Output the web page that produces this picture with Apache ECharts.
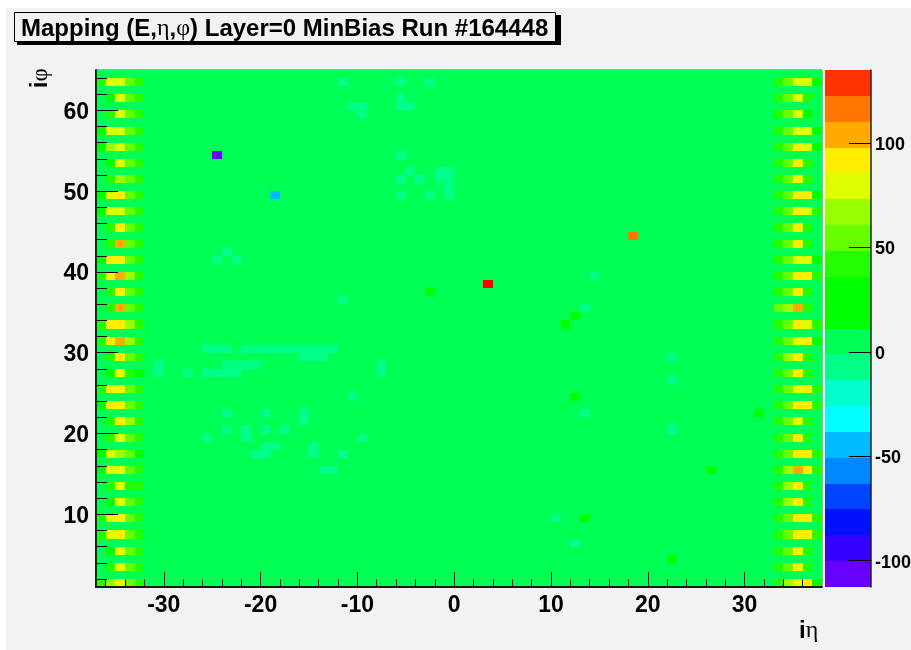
<!DOCTYPE html>
<html><head><meta charset="utf-8">
<style>html,body{margin:0;padding:0;background:#fff}#c{width:911px;height:650px}</style>
<script src="https://cdn.jsdelivr.net/npm/echarts@6/dist/echarts.min.js"></script>
</head><body><div id="c"></div>
<script>
// ---- data ----
const etaBins = [-37, 38];           // i-eta axis range
const phiBins = [1, 65];             // i-phi axis range
const zRange = [-112.6, 135];
const zTicks = [-100, -50, 0, 50, 100];
const xMajor = [-30, -20, -10, 0, 10, 20, 30];
const xMinor = [-36,-34,-32,-28,-26,-24,-22,-18,-16,-14,-12,-8,-6,-4,-2,2,4,6,8,12,14,16,18,22,24,26,28,32,34,36];
const yMajor = [10, 20, 30, 40, 50, 60];
const yMinor = [2,4,6,8,12,14,16,18,22,24,26,28,32,34,36,38,42,44,46,48,52,54,56,58,62,64];
const palette = ['#6600ff','#3300ff','#0011ff','#0044ff','#0088ff','#00bbff','#00ffff','#00ffcc','#00ff88','#00ff55',
                 '#00ff00','#00ff00','#22ff00','#66ff00','#99ff00','#ddff00','#ffee00','#ffaa00','#ff7700','#ff3300'];
const overflowColor = '#ff0000';

// odd phi rows, top to bottom; values for eta -37..-33
const leftRows = {
 63:[42,79,79,54,42],61:[0,30,79,54,42],59:[0,42,79,54,42],57:[30,79,79,54,42],
 55:[30,67,79,54,42],53:[0,30,79,54,42],51:[0,42,67,54,42],49:[30,79,92,54,42],
 47:[30,79,79,54,42],45:[0,42,92,54,42],43:[0,42,104,54,42],41:[30,92,92,54,42],
 39:[42,92,104,67,42],37:[0,42,92,54,42],35:[0,42,104,54,42],33:[42,92,92,67,42],
 31:[42,92,104,67,42],29:[0,42,92,54,42],27:[0,30,79,42,30],25:[42,92,92,54,42],
 23:[30,92,92,54,42],21:[0,42,92,67,42],19:[0,42,79,54,42],17:[30,79,67,54,30],
 15:[30,79,79,54,42],13:[0,42,79,42,42],11:[0,30,79,54,42],9:[42,79,92,54,42],
 7:[42,79,92,54,42],5:[0,30,79,54,42],3:[0,42,79,54,42],1:[42,67,79,54,42]
};
// same rows; values for eta 33..37
const rightRows = {
 63:[42,54,79,79,30],61:[42,54,79,42,0],59:[42,54,79,30,0],57:[42,54,79,79,30],
 55:[42,54,92,79,30],53:[42,54,92,42,0],51:[42,54,92,42,0],49:[42,54,92,92,30],
 47:[42,54,92,79,42],45:[42,54,92,42,0],43:[42,54,92,42,0],41:[42,54,79,79,30],
 39:[42,54,92,92,42],37:[42,54,92,42,0],35:[54,67,104,42,0],33:[42,54,92,79,42],
 31:[42,54,79,92,30],29:[42,67,92,42,0],27:[42,54,92,42,0],25:[42,54,79,92,42],
 23:[42,54,92,92,42],21:[42,54,79,42,0],19:[42,54,92,42,0],17:[42,54,92,92,42],
 15:[42,67,104,92,42],13:[42,67,92,42,0],11:[42,67,92,42,0],9:[42,54,92,92,42],
 7:[42,54,92,92,42],5:[42,54,92,42,0],3:[42,54,92,42,0],1:[42,67,79,92,30]
};
const slightlyLowValue = -7;
const slightlyLowCells = [
 [-12,63],[-6,63],[-3,63],[-6,61],[-6,60],[-5,60],[-11,60],[-10,60],[-10,59],[-6,54],
 [-5,52],[-2,52],[-1,52],[-6,51],[-4,51],[-2,51],[-1,51],[-1,50],[-6,49],[-3,49],[-1,49],
 [-24,42],[-25,41],[-23,41],[14,39],[-12,36],[13,35],
 [-26,30],[-25,30],[-24,30],[-22,30],[-21,30],[-20,30],[-19,30],[-18,30],[-17,30],[-16,30],[-15,30],[-14,30],[-13,30],
 [-16,29],[-15,29],[-14,29],[22,29],
 [-31,28],[-24,28],[-23,28],[-22,28],[-21,28],[-8,28],
 [-31,27],[-28,27],[-26,27],[-25,27],[-24,27],[-23,27],[-8,27],
 [22,26],[-11,24],[-24,22],[-20,22],[-16,22],[13,22],[-16,21],
 [-24,20],[-22,20],[-20,20],[-18,20],[22,20],[-26,19],[-22,19],[-10,19],
 [-20,18],[-19,18],[-15,18],[-21,17],[-20,17],[-15,17],[-12,17],[-14,15],[-13,15],[10,9],[12,6]
];
const slightlyHighValue = 30;
const slightlyHighCells = [[-3,37],[12,34],[11,33],[12,24],[31,22],[26,15],[13,9],[22,4]];
const outlierCells = [[-25,54,-107],[-19,49,-44],[18,44,116],[3,38,140]];

// ---- table built from the arrays ----
const table = new Map();
const key = (i, j) => i + ':' + j;
for (const r in leftRows) leftRows[r].forEach((v, n) => table.set(key(-37 + n, +r), v));
for (const r in rightRows) rightRows[r].forEach((v, n) => table.set(key(33 + n, +r), v));
slightlyLowCells.forEach(c => table.set(key(c[0], c[1]), slightlyLowValue));
slightlyHighCells.forEach(c => table.set(key(c[0], c[1]), slightlyHighValue));
outlierCells.forEach(c => table.set(key(c[0], c[1]), c[2]));
const cells = [];
for (let i = etaBins[0]; i < etaBins[1]; i++)
  for (let j = phiBins[0]; j < phiBins[1]; j++) cells.push([i, j, table.get(key(i, j)) || 0]);

const step = (zRange[1] - zRange[0]) / palette.length;
function colorOf(v) {
  const k = Math.floor((v - zRange[0]) / step);
  return k >= palette.length ? overflowColor : palette[Math.max(k, 0)];
}
const bands = palette.map((c, k) => [zRange[0] + k * step, zRange[0] + (k + 1) * step]);

function rectOf(api, x0, y0, x1, y1, fill) {
  const a = api.coord([x0, y0]), b = api.coord([x1, y1]);
  const l = Math.round(a[0]), r = Math.round(b[0]), t = Math.round(b[1]), d = Math.round(a[1]);
  return { type: 'rect', shape: { x: l, y: t, width: r - l, height: d - t }, style: { fill: fill } };
}
const FONT = '"Liberation Sans", Arial, sans-serif';
const GREEK = '"Liberation Serif", "DejaVu Serif", serif';
const labelStyle = { fontFamily: FONT, fontWeight: 'bold', color: '#000' };
const lineDark = { color: '#111', width: 1.5 };

function axis(dim, range, major, minor, showLabel) {
  const vals = showLabel ? major : minor;
  const isX = dim === 'x';
  return {
    type: 'value', min: range[0], max: range[1], z: 10, silent: true,
    position: isX ? 'bottom' : 'left',
    splitLine: { show: false },
    axisLine: { show: true, onZero: false, lineStyle: lineDark },
    axisTick: { show: true, inside: true, customValues: vals,
      length: isX ? (showLabel ? 15 : 7.5) : (showLabel ? 22 : 11),
      lineStyle: { color: '#000', width: 1 } },
    axisLabel: showLabel
      ? Object.assign({ show: true, customValues: major, fontSize: 23, margin: 7, hideOverlap: false },
          isX ? {} : { verticalAlign: 'top', lineHeight: 4 }, labelStyle)
      : { show: false }
  };
}

const chart = echarts.init(document.getElementById('c'), null, { renderer: 'canvas' });
chart.setOption({
  animation: false,
  backgroundColor: '#fff',
  title: {
    left: 14, top: 12, padding: [5, 8, 1, 7],
    text: '{b|Mapping (E,}{s|η}{b|,}{s|φ}{b|) Layer=0 MinBias Run #164448}',
    backgroundColor: '#f2f2f2', borderColor: '#000', borderWidth: 1,
    textStyle: { rich: {
      b: { fontFamily: FONT, fontWeight: 'bold', fontSize: 24, color: '#000', lineHeight: 24 },
      s: { fontFamily: GREEK, fontWeight: 'normal', fontSize: 24, color: '#000', lineHeight: 24 }
    } }
  },
  graphic: [
    { type: 'rect', z: -100, silent: true, shape: { x: 6, y: 8, width: 905, height: 642 }, style: { fill: '#f2f2f2' } },
    { type: 'rect', z: -50, silent: true, shape: { x: 17, y: 15, width: 544, height: 30 }, style: { fill: '#000' } },
    { type: 'text', z: 50, silent: true, left: 799, top: 619, style: {
        rich: { b: { fontFamily: FONT, fontWeight: 'bold', fontSize: 24, fill: '#000' },
                s: { fontFamily: GREEK, fontSize: 24, fill: '#000' } },
        text: '{b|i}{s|η}' } },
    { type: 'text', z: 50, silent: true, rotation: Math.PI / 2, x: 29, y: 88, style: {
        rich: { b: { fontFamily: FONT, fontWeight: 'bold', fontSize: 23, fill: '#000' },
                s: { fontFamily: GREEK, fontSize: 23, fill: '#000' } },
        text: '{b|i}{s|φ}' } }
  ],
  grid: [
    { left: 96, top: 70, width: 726, height: 517, show: true, backgroundColor: palette[9], borderColor: '#666', borderWidth: 1, outerBoundsMode: 'none' },
    { left: 825, top: 70, width: 46, height: 517, show: false, outerBoundsMode: 'none' }
  ],
  xAxis: [
    axis('x', etaBins, xMajor, xMinor, true),
    Object.assign(axis('x', etaBins, xMajor, xMinor, false), { gridIndex: 0 }),
    { type: 'value', gridIndex: 1, min: 0, max: 1, show: false }
  ],
  yAxis: [
    axis('y', phiBins, yMajor, yMinor, true),
    Object.assign(axis('y', phiBins, yMajor, yMinor, false), { gridIndex: 0 }),
    { type: 'value', gridIndex: 1, min: zRange[0], max: zRange[1], position: 'right', z: 10,
      splitLine: { show: false },
      axisLine: { show: true, onZero: false, lineStyle: { color: '#222', width: 1.5 } },
      axisTick: { show: true, inside: true, length: 22, customValues: zTicks, lineStyle: { color: '#000', width: 1 } },
      axisLabel: Object.assign({ show: true, inside: false, customValues: zTicks, fontSize: 18, margin: 4,
        verticalAlign: 'top', lineHeight: 4, hideOverlap: false }, labelStyle)
    }
  ],
  series: [
    { type: 'custom', xAxisIndex: 0, yAxisIndex: 0, silent: true, data: cells, clip: true,
      encode: { x: 0, y: 1 }, z: 2,
      renderItem: (p, api) => {
        const i = api.value(0), j = api.value(1);
        return rectOf(api, i, j, i + 1, j + 1, colorOf(api.value(2)));
      } },
    { type: 'custom', xAxisIndex: 2, yAxisIndex: 2, silent: true, data: bands, z: 2,
      encode: { y: [0, 1] },
      renderItem: (p, api) => rectOf(api, 0, api.value(0), 1, api.value(1), palette[p.dataIndex]) }
  ]
});
</script></body></html>
